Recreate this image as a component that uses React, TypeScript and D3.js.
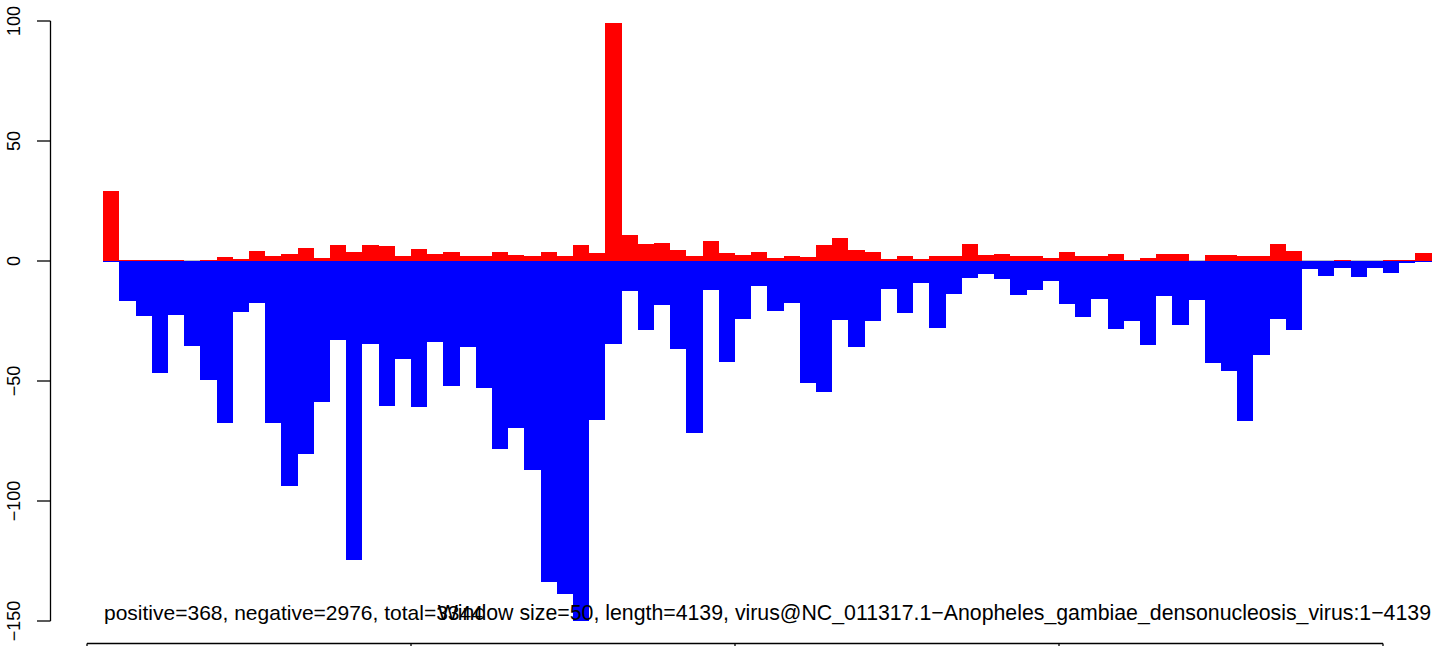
// Strand-split coverage per 50 bp window: positive strand up (red), negative strand down (blue).
import * as d3 from "d3";

const WINDOW = 50;

// counts per window (window i covers [50*(i+1), 50*(i+2)])
const positive = [
  29, 0.5, 0.5, 0.5, 0.5, 0, 0.5, 1.7, 0.8, 4.2,
  2.1, 2.9, 5.4, 1.25, 6.7, 3.75, 6.7, 6.25, 2.1, 5,
  2.9, 3.75, 2.1, 2.1, 3.75, 2.5, 2.1, 3.75, 2.1, 6.7,
  3.3, 99, 10.8, 7.1, 7.5, 4.6, 2.1, 8.3, 3.3, 2.5,
  3.75, 1.25, 2.1, 1.7, 6.7, 9.6, 4.6, 3.75, 0.8, 2.1,
  0.8, 2.1, 2.1, 7.1, 2.5, 2.9, 2.1, 2.1, 1.25, 3.75,
  2.1, 2.1, 2.9, 0.4, 1.25, 2.9, 2.9, 0, 2.5, 2.5,
  2.1, 2.1, 7.1, 4.2, 0, 0, 0.4, 0, 0, 0.4,
  0.4, 3.3,
];

const negative = [
  -0.3, -16.5, -22.8, -46.5, -22.5, -35.3, -49.6, -67.4, -21.1, -17.5,
  -67.4, -93.6, -80.3, -58.6, -32.9, -124.4, -34.6, -60.3, -40.8, -60.7,
  -33.75, -51.9, -35.8, -52.8, -78.2, -69.6, -86.9, -133.6, -138.6, -150,
  -66.1, -34.6, -12.5, -28.75, -18.3, -36.7, -71.5, -12.1, -41.9, -24,
  -10.4, -20.7, -17.5, -50.7, -54.4, -24.6, -35.7, -24.9, -11.5, -21.5,
  -9.2, -27.8, -13.6, -7.1, -5.4, -7.4, -14, -11.9, -8.2, -17.8,
  -23.2, -15.7, -28.2, -24.9, -34.9, -14.4, -26.5, -16.1, -42.4, -45.7,
  -66.5, -39, -24, -28.6, -3.2, -6.1, -2.8, -6.5, -2.8, -4.9,
  -0.7, -0.3,
];

const yTicks = [100, 50, 0, -50, -100, -150];
const xTicks = [0, 1000, 2000, 3000, 4000];

const statsLabel = "positive=368, negative=2976, total=3344";
const infoLabel =
  "Window size=50, length=4139, virus@NC_011317.1\u2212Anopheles_gambiae_densonucleosis_virus:1\u22124139";

const W = 1441, H = 646;
const FONT = "'Liberation Sans', Arial, Helvetica, sans-serif";

const fmt = (v: number) => (v < 0 ? "\u2212" + Math.abs(v) : String(v));

export default function App() {
  const x = d3.scaleLinear().domain([0, 4000]).range([87, 1383]);
  const y = d3.scaleLinear().domain([-150, 100]).range([621, 21]);
  const y0 = y(0);
  const start = (i: number) => WINDOW * (i + 1);
  const n = positive.length;

  return (
    <>
      <style>{`body{margin:0;overflow:hidden}`}</style>
      <svg width={W} height={H} style={{ display: "block", background: "#fff" }}
           fontFamily={FONT}>
        {/* zero line under the bars */}
        <line x1={x(start(0))} x2={x(start(n))} y1={y0 - 0.5} y2={y0 - 0.5}
              stroke="#bebebe" strokeWidth={1} />

        {positive.map((v, i) => v > 0 && (
          <rect key={"p" + i} x={x(start(i))} width={x(start(i + 1)) - x(start(i))}
                y={y(v)} height={y0 - y(v)} fill="#ff0000" shapeRendering="crispEdges" />
        ))}
        {negative.map((v, i) => v < 0 && (
          <rect key={"n" + i} x={x(start(i))} width={x(start(i + 1)) - x(start(i))}
                y={y0} height={y(v) - y0} fill="#0000ff" shapeRendering="crispEdges" />
        ))}

        {/* y axis */}
        <line x1={50.5} x2={50.5} y1={y(100)} y2={y(-150)} stroke="#000" strokeWidth={1.3} />
        {yTicks.map((t) => (
          <g key={t}>
            <line x1={37} x2={50.5} y1={y(t)} y2={y(t)} stroke="#000" strokeWidth={1.3} />
            <text transform={`translate(20,${y(t)}) rotate(-90)`} textAnchor="middle"
                  fontSize={18} fill="#000">{fmt(t)}</text>
          </g>
        ))}

        {/* x axis, mostly below the visible area */}
        <line x1={x(0)} x2={x(4000)} y1={643.5} y2={643.5} stroke="#000" strokeWidth={1.3} />
        {xTicks.map((t) => (
          <line key={t} x1={x(t)} x2={x(t)} y1={643.5} y2={660} stroke="#000" strokeWidth={1.3} />
        ))}

        <text x={104} y={620} fontSize={21} fill="#000">{statsLabel}</text>
        <text x={1431} y={620} fontSize={21.3} fill="#000" textAnchor="end">{infoLabel}</text>
      </svg>
    </>
  );
}
